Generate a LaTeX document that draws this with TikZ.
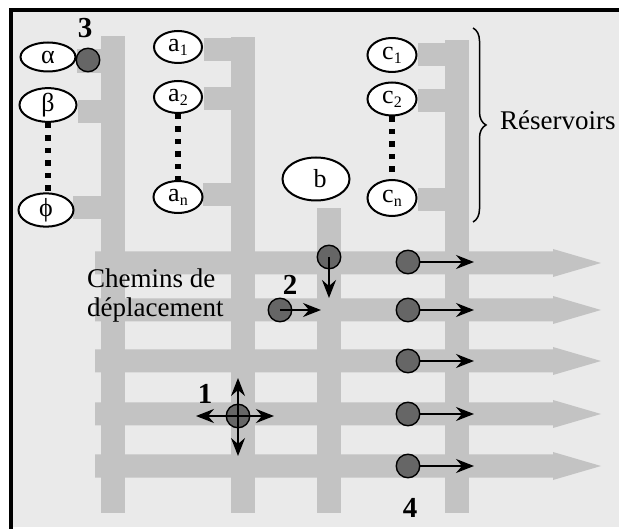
\documentclass[tikz,border=0pt]{standalone}
\usepackage{fontspec}
\setmainfont{Liberation Serif}
\usetikzlibrary{shapes.geometric,arrows.meta,decorations.pathreplacing}
\definecolor{bgc}{HTML}{EAEAEA}
\definecolor{barc}{HTML}{C3C3C3}
\definecolor{dotc}{HTML}{666666}
\newcommand{\lowsub}[1]{\raisebox{-0.35ex}{\fontsize{16}{16}\selectfont #1}}
\begin{document}
\begin{tikzpicture}[x=1pt,y=-1pt,
  res/.style={ellipse, draw=black, line width=2pt, fill=white, inner sep=0pt,
    font=\fontsize{26}{26}\selectfont},
  circ/.style={circle, draw=black, fill=dotc, line width=1.4pt, minimum size=23.5pt, inner sep=0pt},
  arr/.style={-{Stealth[length=18pt,width=14pt,inset=6pt]}, line width=1.7pt},
  dots/.style={line width=5.5pt, dash pattern=on 5.5pt off 7pt},
  num/.style={font=\fontsize{29}{29}\selectfont\bfseries, inner sep=0pt},
  big/.style={font=\fontsize{27}{29}\selectfont, inner sep=0pt},
  bar/.style={fill=barc}]
\useasboundingbox (0,0) rectangle (619,529);
% background and frame
\fill[bgc] (13,12) rectangle (619,527);
\fill[black] (9,8) rectangle (619,12);
\fill[black] (9,8) rectangle (13,529);
% horizontal paths (arrows)
\foreach \y in {263,310,361,414,466}{
  \fill[bar] (95,\y-11.5) -- (553,\y-11.5) -- (553,\y-14) -- (601,\y) -- (553,\y+14) -- (553,\y+11.5) -- (95,\y+11.5) -- cycle;
}
% vertical paths
\fill[bar] (101,36) rectangle (125,513);
\fill[bar] (231,37) rectangle (255,513);
\fill[bar] (317,208) rectangle (341,513);
\fill[bar] (445,40) rectangle (469,513);
% stubs
\fill[bar] (77,49) rectangle (101,73);
\fill[bar] (78,100) rectangle (101,123);
\fill[bar] (73,196) rectangle (101,219);
\fill[bar] (204,38) rectangle (231,61);
\fill[bar] (204,87) rectangle (231,110);
\fill[bar] (203,183) rectangle (231,206);
\fill[bar] (418,43) rectangle (445,66);
\fill[bar] (418,89) rectangle (445,112);
\fill[bar] (418,188) rectangle (445,211);
% reservoirs
\node[res, minimum width=55pt, minimum height=29pt] (alpha) at (48,57) {α};
\node[res, minimum width=57pt, minimum height=28pt] (beta) at (48,105) {β};
\node[res, minimum width=55pt, minimum height=29pt] (phi) at (46,210) {ϕ};
\node[res, minimum width=48pt, minimum height=32pt] (a1) at (178,47) {a\lowsub{1}};
\node[res, minimum width=48pt, minimum height=32pt] (a2) at (178,97) {a\lowsub{2}};
\node[res, minimum width=49pt, minimum height=32pt] (an) at (178,197) {a\lowsub{n}};
\node[res, minimum width=49pt, minimum height=34pt] (c1) at (392,55) {c\lowsub{1}};
\node[res, minimum width=49pt, minimum height=33pt] (c2) at (392,99) {c\lowsub{2}};
\node[res, minimum width=49pt, minimum height=36pt] (cn) at (392,198) {c\lowsub{n}};
\node[res, minimum width=67pt, minimum height=43pt] (b) at (316,179) {\hspace{8pt}b};
\draw[dots] (beta.south) -- (beta.south |- phi.north);
\draw[dots] (a2.south) -- (a2.south |- an.north);
\draw[dots] (c2.south) -- (c2.south |- cn.north);
% brace and labels
\coordinate (brtop) at (473,28);
\coordinate (brbot) at (473,222);
\draw[decorate, decoration={brace, amplitude=13pt}, line width=1.5pt] (brtop) -- (brbot);
\node[big, anchor=base west] (resl) at (500,130) {Réservoirs};
\node[big, anchor=base west] (chem1) at (87,288) {Chemins de};
\node[big, anchor=base west] (chem2) at (87,317) {déplacement};
% vehicle 3
\node[circ] (v3) at (88,60) {};
\node[num] (l3) at (85,28) {3};
% vehicles 2
\node[circ] (v2a) at (329,257) {};
\coordinate (t2a) at (329,298);
\draw[arr] (v2a.center) -- (t2a);
\node[circ] (v2b) at (280,310) {};
\coordinate (t2b) at (321,310);
\draw[arr] (v2b.center) -- (t2b);
\node[num] (l2) at (290,285) {2};
% vehicle 1
\node[circ] (v1) at (238,416) {};
\coordinate (t1u) at (238,378);
\coordinate (t1d) at (238,456);
\coordinate (t1l) at (196,416);
\coordinate (t1r) at (274,416);
\draw[arr] (v1.center) -- (t1u);
\draw[arr] (v1.center) -- (t1d);
\draw[arr] (v1.center) -- (t1l);
\draw[arr] (v1.center) -- (t1r);
\node[num] (l1) at (205,394) {1};
% vehicles 4
\foreach \y/\n in {262/a,310/b,361/c,414/d,466/e}{
  \node[circ] (v4\n) at (408,\y) {};
  \coordinate (t4\n) at (474,\y);
  \draw[arr] (v4\n.east) -- (t4\n);
}
\node[num] (l4) at (410,508) {4};
\end{tikzpicture}
\end{document}
